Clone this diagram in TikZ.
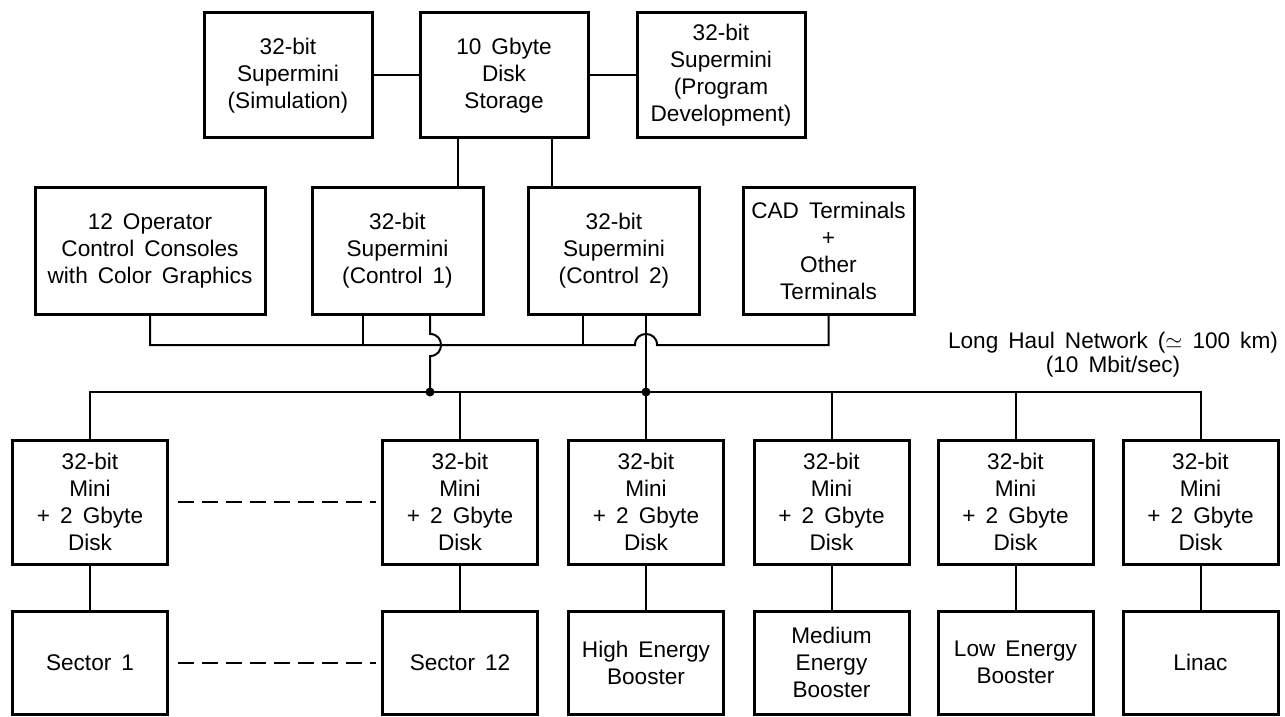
\documentclass[tikz,border=0pt]{standalone}
\usepackage{fontspec}
\setmainfont{Liberation Sans}[WordSpace=1.6]
\begin{document}
\begin{tikzpicture}[x=0.5pt,y=-0.5pt,
  box/.style={draw,line width=1.5pt,align=center,inner sep=0pt,font=\fontsize{11.3}{13.5}\selectfont},
  topbox/.style={box,minimum width=84pt,minimum height=62.5pt},
  midbox/.style={box,minimum width=85.5pt,minimum height=63.5pt},
  minibox/.style={box,minimum width=77.5pt,minimum height=62pt},
  sectbox/.style={box,minimum width=77.5pt,minimum height=51.5pt},
  wire/.style={line width=1pt},
  dashwire/.style={line width=1pt,dash pattern=on 8pt off 4pt},
  junction/.style={circle,fill,inner sep=0pt,minimum size=4.5pt}]
\useasboundingbox (0,0) rectangle (1285,717);

% top row
\node[topbox] (sim)  at (288,75.5) {32-bit\\Supermini\\(Simulation)};
\node[topbox] (disk) at (504,75.5) {10 Gbyte\\Disk\\Storage};
\node[topbox] (prog) at (721,75.5) {32-bit\\Supermini\\(Program\\Development)};

% middle row
\node[midbox,minimum width=115pt] (ops) at (150,250.5) {12 Operator\\Control Consoles\\with Color Graphics};
\node[midbox] (c1)  at (397.5,250.5) {32-bit\\Supermini\\(Control 1)};
\node[midbox] (c2)  at (614,250.5) {32-bit\\Supermini\\(Control 2)};
\node[midbox] (cad) at (828.5,250.5) {CAD Terminals\\+\\Other\\Terminals};

% mini row
\node[minibox] (m1)  at (90,502)    {32-bit\\Mini\\+ 2 Gbyte\\Disk};
\node[minibox] (m12) at (460,502)   {32-bit\\Mini\\+ 2 Gbyte\\Disk};
\node[minibox] (mh)  at (646,502)   {32-bit\\Mini\\+ 2 Gbyte\\Disk};
\node[minibox] (mm)  at (831.5,502) {32-bit\\Mini\\+ 2 Gbyte\\Disk};
\node[minibox] (ml)  at (1015.5,502){32-bit\\Mini\\+ 2 Gbyte\\Disk};
\node[minibox] (mli) at (1200.5,502){32-bit\\Mini\\+ 2 Gbyte\\Disk};

% sector row
\node[sectbox] (s1)  at (90,662.5)    {Sector 1};
\node[sectbox] (s12) at (460,662.5)   {Sector 12};
\node[sectbox] (sh)  at (646,662.5)   {High Energy\\Booster};
\node[sectbox] (sm)  at (831.5,662.5) {Medium\\Energy\\Booster};
\node[sectbox] (sl)  at (1015.5,662.5){Low Energy\\Booster};
\node[sectbox] (sli) at (1200.5,662.5){Linac};

% label
\node[font=\fontsize{11.3}{12}\selectfont,align=center] (lh) at (1113,355)
  {Long Haul Network ($\simeq$ 100 km)\\(10 Mbit/sec)};

% helper coordinates
\coordinate (dA) at (458,0);
\coordinate (dB) at (552,0);
\coordinate (ub) at (0,345);
\coordinate (lb) at (0,392);
\coordinate (x363) at (363,0);
\coordinate (x583) at (583,0);
\coordinate (x430) at (430,0);
\coordinate (hA1) at (430,334);
\coordinate (hA2) at (430,356);
\coordinate (hB1) at (635,345);
\coordinate (hB2) at (657,345);

% top connectors
\draw[wire] (sim) -- (disk);
\draw[wire] (disk) -- (prog);
\draw[wire] (disk.south -| dA) -- (c1.north -| dA);
\draw[wire] (disk.south -| dB) -- (c2.north -| dB);

% upper bus with hop over the Control 2 line
\draw[wire] (ops.south) -- (ops.south |- ub) -- (hB1)
  .. controls (635,330.3) and (657,330.3) .. (hB2)
  -- (cad.south |- ub) -- (cad.south);
\draw[wire] (c1.south -| x363) -- (x363 |- ub);
\draw[wire] (c2.south -| x583) -- (x583 |- ub);

% Control 1 line hopping over the upper bus
\draw[wire] (c1.south -| x430) -- (hA1)
  .. controls (444.7,334) and (444.7,356) .. (hA2)
  -- (x430 |- lb);
% Control 2 line straight down
\draw[wire] (c2.south -| mh.north) -- (mh.north);

% lower bus
\draw[wire] (m1.north) -- (m1.north |- lb) -- (mli.north |- lb) -- (mli.north);
\foreach \m in {m12,mm,ml}{\draw[wire] (\m.north |- lb) -- (\m.north);}
\node[junction] (j1) at (x430 |- lb) {};
\node[junction] (j2) at (mh.north |- lb) {};

% mini to sectors
\draw[wire] (m1) -- (s1);
\draw[wire] (m12) -- (s12);
\draw[wire] (mh) -- (sh);
\draw[wire] (mm) -- (sm);
\draw[wire] (ml) -- (sl);
\draw[wire] (mli) -- (sli);

% dashed links
\draw[dashwire,shorten <=4.5pt,shorten >=2.5pt] (m1) -- (m12);
\draw[dashwire,shorten <=4.5pt,shorten >=2.5pt] (s1) -- (s12);
\end{tikzpicture}
\end{document}
